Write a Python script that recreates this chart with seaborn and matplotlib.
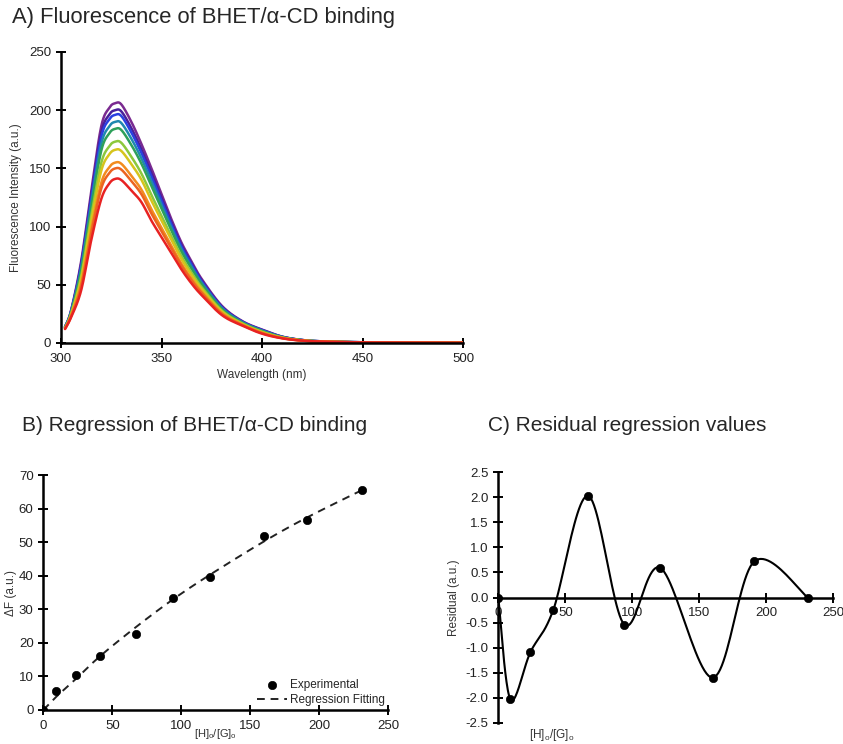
import numpy as np
import pandas as pd
import matplotlib
matplotlib.use('Agg')
import matplotlib.pyplot as plt
import seaborn as sns

# --- A) spectra ---
wavelength = [302, 305, 310, 315, 320, 324, 327, 330, 335, 340, 345, 350, 355,
              360, 365, 370, 380, 390, 400, 410, 420, 430, 450, 475, 500]

spec_206 = [14, 28, 70, 130, 186, 202, 206, 205, 190, 171, 150, 128, 106,
            86, 70, 55, 32, 19, 11.5, 5.5, 2.6, 1.4, 0.6, 0.3, 0.2]
spec_200 = [13.8, 27.4, 67.7, 126.1, 180.5, 196.2, 200, 199, 184.6, 166.4, 145.9, 124.6, 103.3,
            83.9, 68.3, 53.7, 31.3, 18.6, 11.2, 5.4, 2.5, 1.4, 0.6, 0.3, 0.2]
spec_196 = [13.7, 27.1, 66.2, 123.5, 176.7, 192.1, 196, 195, 180.9, 163.3, 143.1, 122.3, 101.5,
            82.5, 67.1, 52.8, 30.8, 18.4, 11, 5.3, 2.5, 1.4, 0.6, 0.3, 0.2]
spec_190 = [13.5, 26.5, 63.9, 119.7, 170.8, 186.1, 190, 189, 175.5, 158.7, 138.9, 118.9, 98.9,
            80.3, 65.3, 51.6, 30, 18, 10.6, 5.1, 2.5, 1.4, 0.6, 0.3, 0.2]
spec_184 = [13.3, 26, 61.6, 115.8, 165, 180.1, 184, 183, 170.1, 154.1, 134.8, 115.5, 96.2,
            78.2, 63.6, 50.3, 29.3, 17.6, 10.3, 5, 2.4, 1.3, 0.6, 0.3, 0.2]
spec_173 = [13, 25, 57.3, 108.7, 154.5, 169, 173, 172, 160, 145.6, 127.1, 109.2, 91.3,
            74.3, 60.3, 47.9, 27.9, 17, 9.7, 4.7, 2.3, 1.3, 0.5, 0.3, 0.2]
spec_166 = [12.8, 24.3, 54.6, 104.2, 147.8, 162, 166, 165, 153.7, 140.3, 122.3, 105.2, 88.2,
            71.9, 58.3, 46.4, 27.1, 16.5, 9.3, 4.6, 2.2, 1.3, 0.5, 0.3, 0.2]
spec_155 = [12.4, 23.3, 50.4, 97, 137.4, 151, 155, 154, 143.7, 131.8, 114.7, 99, 83.2,
            67.9, 55.1, 44, 25.7, 15.9, 8.8, 4.3, 2.1, 1.2, 0.5, 0.3, 0.2]
spec_150 = [12.3, 22.8, 48.5, 93.8, 132.6, 146, 150, 149, 139.1, 127.9, 111.2, 96.1, 81,
            66.2, 53.6, 42.9, 25.1, 15.6, 8.5, 4.2, 2.1, 1.2, 0.5, 0.3, 0.2]
spec_141 = [12, 22, 45, 88, 123.5, 137, 141, 140, 131, 121, 105, 91, 77,
            63, 51, 41, 24, 15, 8, 4, 2, 1.2, 0.5, 0.3, 0.2]

spectra = [spec_206, spec_200, spec_196, spec_190, spec_184,
           spec_173, spec_166, spec_155, spec_150, spec_141]
spec_colors = ['#7a2a90', '#4a1f9a', '#2a3fe0', '#1f88b0', '#2ea05a',
               '#8cc83c', '#d6c41c', '#f28c1e', '#ec6420', '#e82222']

# --- B) regression ---
ratio = [0, 9, 24, 41, 67, 94, 121, 160, 191, 231]
delta_f = [0.0, 5.8, 10.5, 16.2, 22.7, 33.5, 39.8, 51.8, 56.7, 65.6]
delta_f_fit = [0.0, 3.8, 9.4, 16.0, 24.7, 33.0, 40.4, 50.3, 57.4, 65.6]

# --- C) residuals ---
residual = [0.0, -2.03, -1.09, -0.25, 2.03, -0.54, 0.59, -1.6, 0.72, 0.0]

RAZAO = r'[H]$_\mathregular{o}$/[G]$_\mathregular{o}$'


def suavizar(x, y, n=25):
    # curva "smooth" estilo Excel (bezier com vizinhos)
    p = np.column_stack([x, y]).astype(float)
    out = []
    for i in range(len(p) - 1):
        p0 = p[i - 1] if i > 0 else p[i]
        p1, p2 = p[i], p[i + 1]
        p3 = p[i + 2] if i + 2 < len(p) else p[i + 1]
        c1 = p1 + (p2 - p0) / 6
        c2 = p2 - (p3 - p1) / 6
        t = np.linspace(0, 1, n)[:, None]
        seg = ((1 - t) ** 3) * p1 + 3 * ((1 - t) ** 2) * t * c1 + 3 * (1 - t) * t ** 2 * c2 + t ** 3 * p2
        out.append(seg if i == 0 else seg[1:])
    out = np.vstack(out)
    return out[:, 0], out[:, 1]


def estilo_eixo(ax):
    for s in ['top', 'right']:
        ax.spines[s].set_visible(False)
    for s in ['left', 'bottom']:
        ax.spines[s].set_linewidth(1.8)
        ax.spines[s].set_color('black')
    ax.tick_params(direction='inout', length=7, width=1.4, labelsize=9.5,
                   colors='black', labelcolor='#222222')


sns.set_style('ticks')
plt.rcParams['font.family'] = ['Liberation Sans', 'DejaVu Sans']
plt.rcParams['mathtext.fontset'] = 'custom'
plt.rcParams['mathtext.rm'] = 'Liberation Sans'

W, H = 843, 744
fig = plt.figure(figsize=(W / 100, H / 100), dpi=100)


def eixo(l, r, t, b):
    return fig.add_axes([l / W, 1 - b / H, (r - l) / W, (b - t) / H])


# A
axA = eixo(61, 463, 52, 343)
frames = []
for k, (vals, c) in enumerate(zip(spectra, spec_colors)):
    xs, ys = suavizar(wavelength, vals)
    frames.append(pd.DataFrame({'wl': xs, 'fi': ys, 'curva': k}))
dfA = pd.concat(frames)
sns.lineplot(data=dfA, x='wl', y='fi', hue='curva', palette=spec_colors,
             estimator=None, sort=False, legend=False, linewidth=1.8, ax=axA)
axA.set_xlim(300, 500)
axA.set_ylim(0, 250)
axA.set_xticks([300, 350, 400, 450, 500])
axA.set_yticks([0, 50, 100, 150, 200, 250])
estilo_eixo(axA)
axA.set_xlabel('Wavelength (nm)', fontsize=8.5, color='#333333', labelpad=3)
axA.set_ylabel('Fluorescence Intensity (a.u.)', fontsize=8.5, color='#333333', labelpad=5)

# B
axB = eixo(43.3, 388.3, 475.3, 710)
xf, yf = suavizar(ratio, delta_f_fit)
sns.lineplot(x=xf, y=yf, color='#222222', linestyle=(0, (4, 3)), linewidth=1.4,
             estimator=None, sort=False, ax=axB, label='Regression Fitting')
sns.scatterplot(x=ratio, y=delta_f, color='black', s=36, edgecolor='black',
                ax=axB, label='Experimental', zorder=3)
axB.set_xlim(0, 250)
axB.set_ylim(0, 70)
axB.set_xticks(range(0, 251, 50))
axB.set_yticks(range(0, 71, 10))
estilo_eixo(axB)
axB.set_xlabel('')
axB.set_ylabel('ΔF (a.u.)', fontsize=8.5, color='#333333', labelpad=1)
h, l = axB.get_legend_handles_labels()
axB.legend(h[::-1], l[::-1], loc='lower right', bbox_to_anchor=(1.02, -0.03), frameon=False,
           fontsize=8.5, handlelength=2.6, handletextpad=0.2, labelspacing=0.25)
fig.text(215 / W, 1 - 734 / H, RAZAO, fontsize=8, color='#333333', ha='center', va='center')

# C
axC = eixo(498.3, 833.3, 472.3, 722.7)
xr, yr = suavizar(ratio, residual)
sns.lineplot(x=xr, y=yr, color='black', linewidth=1.5, estimator=None, sort=False, ax=axC)
sns.scatterplot(x=ratio, y=residual, color='black', s=36, edgecolor='black', ax=axC, zorder=3)
axC.set_xlim(0, 250)
axC.set_ylim(-2.5, 2.5)
axC.set_xticks(range(0, 251, 50))
axC.set_yticks(np.arange(-2.5, 2.51, 0.5))
axC.yaxis.set_major_formatter(matplotlib.ticker.FormatStrFormatter('%.1f'))
estilo_eixo(axC)
axC.spines['bottom'].set_position(('data', 0))
axC.set_xlabel('')
axC.set_ylabel('Residual (a.u.)', fontsize=8.5, color='#333333', labelpad=4)
fig.text(552 / W, 1 - 735 / H, RAZAO, fontsize=8.5, color='#333333', ha='center', va='center')

# titulos
fig.text(12 / W, 1 - 18 / H, 'A) Fluorescence of BHET/α-CD binding', fontsize=15.8, va='center')
fig.text(22 / W, 1 - 425 / H, 'B) Regression of BHET/α-CD binding', fontsize=15, va='center')
fig.text(488 / W, 1 - 425 / H, 'C) Residual regression values', fontsize=15, va='center')

fig.savefig('out.png', dpi=100)
